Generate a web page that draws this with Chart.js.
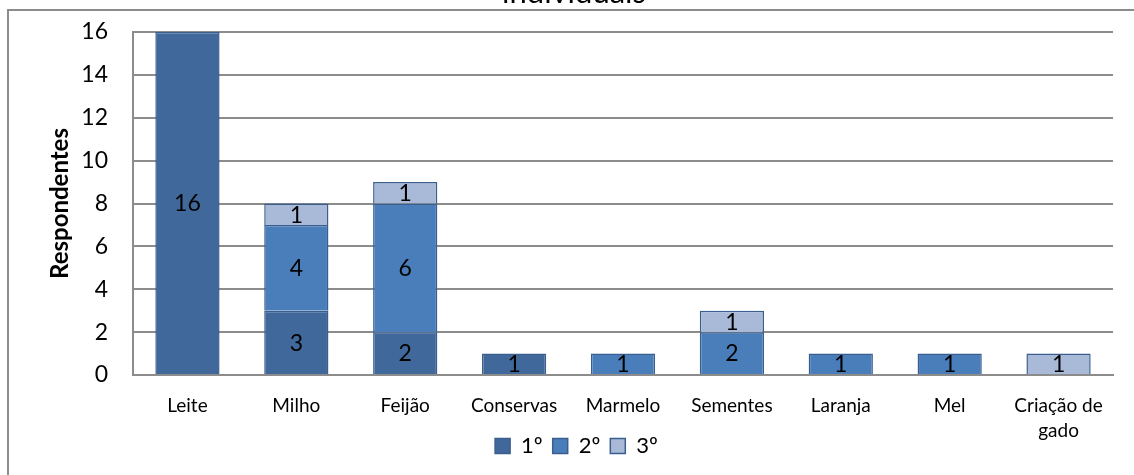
<!DOCTYPE html>
<html>
<head>
<meta charset="utf-8">
<script src="https://cdn.jsdelivr.net/npm/chart.js@4/dist/chart.umd.min.js"></script>
<style>
  html, body { margin: 0; padding: 0; background: #fff; overflow: hidden; }
  #wrap { position: relative; width: 1134px; height: 475px; }
  #frame {
    position: absolute; left: 7px; top: 9px; width: 1200px; height: 500px;
    border-left: 2px solid #8c8c8c; border-top: 2px solid #8c8c8c;
  }
  canvas { position: absolute; left: 0; top: 0; }
</style>
</head>
<body>
<div id="wrap">
  <div id="frame"></div>
  <canvas id="c" width="1134" height="475"></canvas>
</div>
<script>
// Produtos citados pelos respondentes, por ordem de importância
const categories = ['Leite', 'Milho', 'Feijão', 'Conservas', 'Marmelo', 'Sementes', 'Laranja', 'Mel', ['Criação de', 'gado']];
const primeiro = [16, 3, 2, 1, null, null, null, null, null];
const segundo  = [null, 4, 6, null, 1, 2, 1, 1, null];
const terceiro = [null, 1, 1, null, null, 1, null, null, 1];
const seriesNames = ['1º', '2º', '3º'];
const yTicks = [0, 2, 4, 6, 8, 10, 12, 14, 16];
const chartTitle = 'individuais';

const FONT = 'Lato, "Open Sans", sans-serif';
const edge = '#3a5f8f';

// Writes each segment's value in the middle of its bar
const segmentLabels = {
  id: 'segmentLabels',
  afterDatasetsDraw(chart) {
    const ctx = chart.ctx;
    ctx.save();
    ctx.font = '23px ' + FONT;
    ctx.fillStyle = '#000';
    ctx.textAlign = 'center';
    ctx.textBaseline = 'middle';
    chart.data.datasets.forEach((ds, i) => {
      const meta = chart.getDatasetMeta(i);
      meta.data.forEach((el, j) => {
        const v = ds.data[j];
        if (v === null || v === undefined) return;
        ctx.fillText(String(v), el.x, (el.y + el.base) / 2 + 1);
      });
    });
    ctx.restore();
  }
};

// Title text sitting at the very top edge
const topTitle = {
  id: 'topTitle',
  afterDraw(chart) {
    const ctx = chart.ctx;
    ctx.save();
    ctx.font = '31px ' + FONT;
    ctx.fillStyle = '#000';
    ctx.textAlign = 'center';
    ctx.textBaseline = 'alphabetic';
    ctx.fillText(chartTitle, 574, 3);
    ctx.restore();
  }
};

new Chart(document.getElementById('c'), {
  type: 'bar',
  data: {
    labels: categories,
    datasets: [
      { label: seriesNames[0], data: primeiro, backgroundColor: '#41689b', borderColor: edge, borderWidth: 1.5 },
      { label: seriesNames[1], data: segundo,  backgroundColor: '#4a7ebb', borderColor: edge, borderWidth: 1.5 },
      { label: seriesNames[2], data: terceiro, backgroundColor: '#a9b9d8', borderColor: edge, borderWidth: 1.5 }
    ]
  },
  options: {
    responsive: false,
    animation: false,
    devicePixelRatio: 1,
    layout: { padding: { left: 40, right: 21, top: 32, bottom: 8 } },
    datasets: { bar: { categoryPercentage: 1, barPercentage: 0.59 } },
    scales: {
      x: {
        stacked: true,
        grid: { display: false, drawTicks: false },
        border: { display: true, color: '#8c8c8c', width: 2 },
        ticks: { color: '#000', font: { family: FONT, size: 19, lineHeight: 1.3 }, padding: 19, maxRotation: 0, autoSkip: false },
        afterFit(scale) {
          scale.height = 50;
          // let the two-line label run below the axis box
          scale._computeLabelArea = () => undefined;
        }
      },
      y: {
        stacked: true,
        min: 0, max: 16,
        afterBuildTicks(scale) { scale.ticks = yTicks.map(v => ({ value: v })); },
        grid: { color: '#8c8c8c', lineWidth: 2, drawTicks: false },
        border: { display: true, color: '#8c8c8c', width: 2 },
        ticks: { color: '#000', font: { family: FONT, size: 23 }, padding: 25 },
        title: { display: true, text: 'Respondentes', color: '#000', font: { family: FONT, size: 24, weight: 'bold' }, padding: { top: 6, bottom: 0 } },
        afterFit(scale) {
          scale.width = 93;
          scale.paddingTop = 0;
          scale.paddingBottom = 0;
        }
      }
    },
    plugins: {
      legend: {
        position: 'bottom',
        labels: { color: '#000', font: { family: FONT, size: 22 }, boxWidth: 15, boxHeight: 15, padding: 10 }
      },
      tooltip: { enabled: false }
    }
  },
  plugins: [segmentLabels, topTitle]
});
</script>
</body>
</html>
